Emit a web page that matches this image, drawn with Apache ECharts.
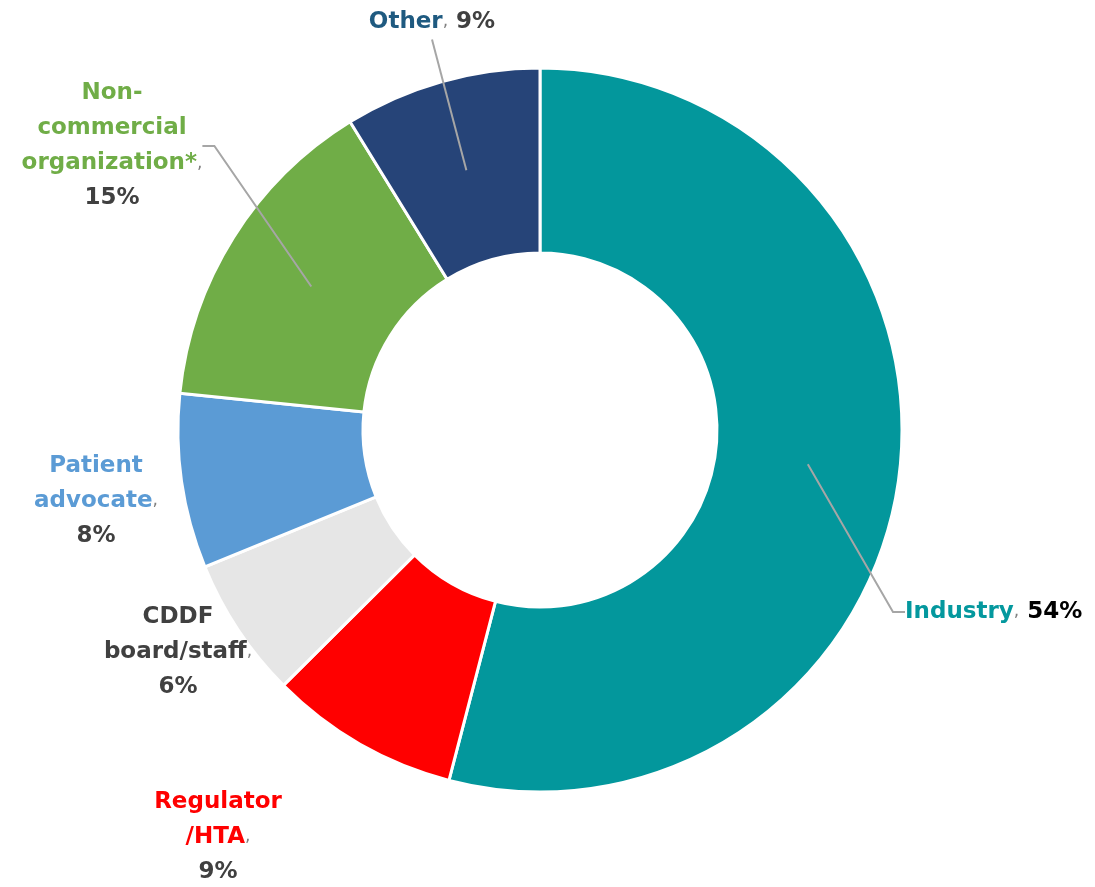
<!DOCTYPE html>
<html>
<head>
<meta charset="utf-8">
<script src="https://cdn.jsdelivr.net/npm/echarts@6/dist/echarts.min.js"></script>
<style>
  html, body { margin: 0; padding: 0; background: #fff; }
  #chart { width: 1095px; height: 887px; }
</style>
</head>
<body>
<div id="chart"></div>
<script>
// slices clockwise from 12 o'clock
const names = ['Industry', 'Regulator\n/HTA', 'CDDF\nboard/staff', 'Patient\nadvocate', 'Non-\ncommercial\norganization*', 'Other']
const values = [54.1, 8.5, 6.3, 7.8, 14.6, 8.8]
const sliceColors = ['#03979C', '#FF0000', '#E6E6E6', '#5B9BD5', '#70AD47', '#264478']
const labelColors = ['#04989E', '#FF0000', '#404040', '#5B9BD5', '#70AD47', '#1F5A80']
const pctColors = ['#000000', '#404040', '#404040', '#404040', '#404040', '#404040']

// label placement (px), and leader line tail (null = no line)
const labelPos = [
  { x: 905, y: 612, align: 'left', tail: 12 },
  { x: 218, y: 837, align: 'center', tail: null },
  { x: 178, y: 652, align: 'center', tail: null },
  { x: 96, y: 501, align: 'center', tail: null },
  { x: 112, y: 146, align: 'center', tail: 12 },
  { x: 432, y: 22, align: 'center', tail: 0 }
]

const chart = echarts.init(document.getElementById('chart'))

const rich = { comma: { color: '#7F7F7F', fontSize: 17, fontWeight: 'normal' } }
labelColors.forEach((c, i) => {
  rich['n' + i] = { color: c }
  rich['p' + i] = { color: pctColors[i] }
})

const center = [540, 430]

chart.setOption({
  animation: false,
  textStyle: { fontFamily: 'DejaVu Sans', fontWeight: 'bold' },
  series: [
    {
      // the ring itself
      type: 'pie',
      z: 1,
      center,
      radius: [177, 362],
      startAngle: 90,
      silent: true,
      itemStyle: { borderColor: '#fff', borderWidth: 3 },
      label: { show: false },
      labelLine: { show: false },
      data: values.map((v, i) => ({ name: names[i], value: v, itemStyle: { color: sliceColors[i] } }))
    },
    {
      // invisible copy: its outer edge is where the leader lines start (inside the ring)
      type: 'pie',
      z: 5,
      center,
      radius: [0, 270],
      startAngle: 90,
      silent: true,
      itemStyle: { color: 'transparent', borderWidth: 0 },
      label: {
        show: true,
        fontSize: 23,
        fontWeight: 'bold',
        fontFamily: 'DejaVu Sans',
        lineHeight: 35,
        overflow: 'none',
        formatter: (p) => {
          const i = p.dataIndex
          const sep = names[i].indexOf('\n') >= 0 ? '\n' : ' '
          return '{n' + i + '|' + names[i] + '}{comma|,}' + sep + '{p' + i + '|' + Math.round(p.value) + '%}'
        },
        rich
      },
      labelLine: { show: true, length: 20, length2: 12, lineStyle: { color: '#A6A6A6', width: 2 } },
      labelLayout: (params) => {
        const pos = labelPos[params.dataIndex]
        return { x: pos.x, y: pos.y, align: pos.align, verticalAlign: 'middle' }
      },
      data: values.map((v, i) => ({
        name: names[i],
        value: v,
        labelLine: labelPos[i].tail === null ? { show: false } : { show: true, length2: labelPos[i].tail }
      }))
    }
  ]
})
</script>
</body>
</html>
